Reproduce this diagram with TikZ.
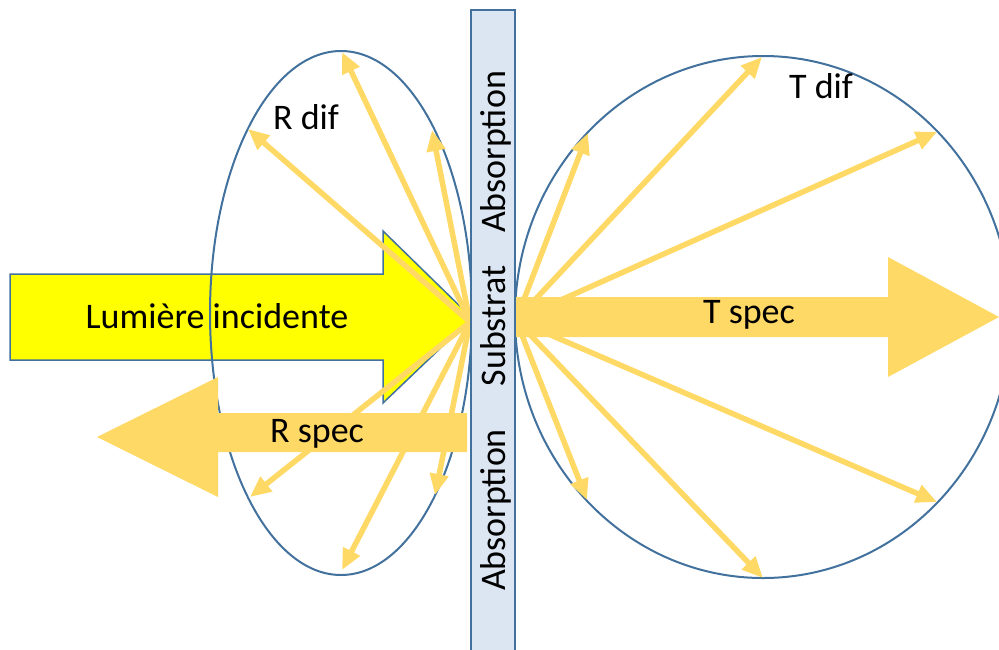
\documentclass[tikz,border=0pt]{standalone}
\usepackage{fontspec}
\setmainfont{Carlito}
\usetikzlibrary{arrows.meta}
\definecolor{rayon}{HTML}{FFD966}
\definecolor{bord}{HTML}{41719C}
\definecolor{substratfond}{HTML}{DCE6F2}
\definecolor{jaune}{HTML}{FFFF00}

\begin{document}
\begin{tikzpicture}[x=1pt, y=-1pt, font=\fontsize{36}{42}\selectfont,
    >={Triangle[length=21pt,width=18pt]},
    ray/.style={draw=rayon, line width=5.5pt, ->},
    contour/.style={draw=bord, line width=2pt},
    label/.style={anchor=base, inner sep=0pt}]
    \clip (0,0) rectangle (999,649);
    \draw[contour, line width=1.5pt, fill=jaune] (10,274) -- (383,274) -- (383,231) -- (472,318) -- (383,403) -- (383,360) -- (10,360) -- cycle;
    \node[label] (incidente) at (217,328) {Lumière incidente};
    \draw[contour] (341,313) ellipse [x radius=131pt, y radius=262pt];
    \draw[contour] (763,317) ellipse [x radius=248pt, y radius=261pt];
    \coordinate (rsrc) at (470,322);
    \coordinate (tsrc) at (516,320);
    \foreach \x/\y [count=\i] in {342/52,432/130,248/129,250/497,342/570,435/495}
      {\coordinate (rdif\i) at (\x,\y); \draw[ray] (rsrc) -- (rdif\i);}
    \foreach \x/\y [count=\i] in {588/133,762/57,937/132,587/500,763/578,937/502}
      {\coordinate (tdif\i) at (\x,\y); \draw[ray] (tsrc) -- (tdif\i);}
    \fill[rayon] (467,413) -- (218,413) -- (218,377) -- (97,437) -- (218,497) -- (218,452) -- (467,452) -- cycle;
    \node[label] (rspec) at (317,442) {R spec};
    \fill[rayon] (515,297) -- (888,297) -- (888,257) -- (999,317) -- (888,377) -- (888,337) -- (515,337) -- cycle;
    \node[label] (tspec) at (749,323) {T spec};
    \node[label] (rdif) at (306,129) {R dif};
    \node[label] (tdif) at (821,98) {T dif};
    \draw[contour, line width=1.5pt, fill=substratfond] (471,10) rectangle (515,670);
    \node[label, rotate=90] (abshaut) at (505,152) {Absorption};
    \node[label, rotate=90] (substrat) at (505,326) {Substrat};
    \node[label, rotate=90] (absbas) at (505,510) {Absorption};
\end{tikzpicture}
\end{document}
